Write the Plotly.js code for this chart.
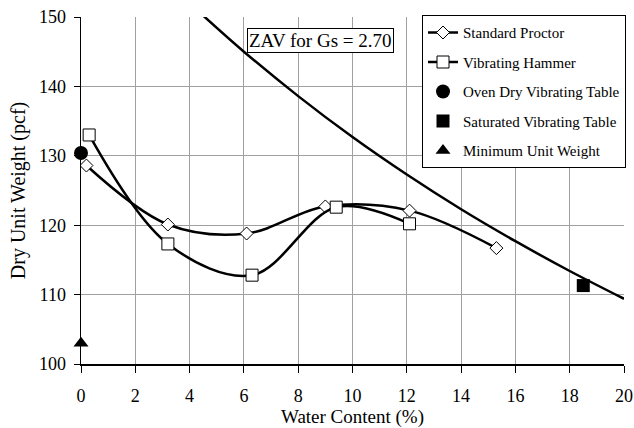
<!DOCTYPE html>
<html><head><meta charset="utf-8">
<script src="https://cdn.plot.ly/plotly-3.0.1.min.js"></script>
<style>body{margin:0;background:#fff}#c{width:634px;height:428px}</style>
</head><body><div id="c"></div>
<script>
const spW = [0.2, 3.2, 6.1, 9.0, 12.1, 15.3];
const spG = [128.6, 120.1, 118.8, 122.7, 122.1, 116.7];
const vhW = [0.3, 3.2, 6.3, 9.4, 12.1];
const vhG = [133.0, 117.3, 112.8, 122.6, 120.2];
const odW = [0];
const odG = [130.4];
const satW = [18.5];
const satG = [111.3];
const minW = [0];
const minG = [103.0];
const zavW = [4.5, 6, 8, 10, 12, 14, 16, 18, 20];
const zavG = [150.2, 145.0, 138.6, 132.7, 127.3, 122.3, 117.7, 113.4, 109.4];
const xTicks = [0, 2, 4, 6, 8, 10, 12, 14, 16, 18, 20];
const yTicks = [100, 110, 120, 130, 140, 150];

const F = "Liberation Serif";
const traces = [
  {x: zavW, y: zavG, mode: 'lines', line: {color: '#000', width: 2.5, shape: 'spline'}, showlegend: false, hoverinfo: 'skip'},
  {x: spW, y: spG, name: 'Standard Proctor', legendgroup: 'a', mode: 'lines+markers',
   line: {color: '#000', width: 2.5, shape: 'spline', smoothing: 1},
   marker: {symbol: 'diamond', size: 10, color: '#fff', line: {color: '#000', width: 1}}},
  {x: vhW, y: vhG, name: 'Vibrating Hammer', legendgroup: 'b', mode: 'lines+markers',
   line: {color: '#000', width: 2.5, shape: 'spline', smoothing: 1},
   marker: {symbol: 'square', size: 12, color: '#fff', line: {color: '#000', width: 1}}},
  {x: odW, y: odG, name: 'Oven Dry Vibrating Table', legendgroup: 'c', mode: 'markers', cliponaxis: false,
   marker: {symbol: 'circle', size: 14, color: '#000'}},
  {x: satW, y: satG, name: 'Saturated Vibrating Table', legendgroup: 'd', mode: 'markers',
   marker: {symbol: 'square', size: 13, color: '#000'}},
  {x: minW, y: minG, name: 'Minimum Unit Weight', legendgroup: 'e', mode: 'markers', cliponaxis: false,
   marker: {symbol: 'triangle-up', size: 13, color: '#000'}}
];
const layout = {
  width: 634, height: 428,
  margin: {l: 81, r: 8, t: 17, b: 64},
  paper_bgcolor: '#fff', plot_bgcolor: '#fff',
  font: {family: F, color: '#000', size: 18},
  showlegend: true,
  legend: {x: 0.628, y: 1.005, xanchor: 'left', yanchor: 'top', bgcolor: '#fff',
    bordercolor: '#000', borderwidth: 1, font: {family: F, size: 15, color: '#000'},
    tracegroupgap: 7, traceorder: 'grouped', itemwidth: 30},
  xaxis: {range: [0, 20], tickvals: xTicks, ticks: 'outside', ticklen: 7, tickcolor: '#000',
    ticklabeloverflow: 'allow', ticklabelstandoff: 8,
    showgrid: true, gridcolor: '#a0a0a0', gridwidth: 1, zeroline: false,
    showline: true, linecolor: '#000', linewidth: 1.5,
    tickfont: {family: F, size: 18}, title: {text: 'Water Content (%)', font: {family: F, size: 19}, standoff: 12}},
  yaxis: {range: [100, 150], tickvals: yTicks, ticks: 'outside', ticklen: 6, tickcolor: '#000',
    ticklabelstandoff: 4,
    showgrid: true, gridcolor: '#a0a0a0', gridwidth: 1, zeroline: false,
    showline: true, linecolor: '#000', linewidth: 1.5,
    tickfont: {family: F, size: 18}, title: {text: 'Dry Unit Weight (pcf)', font: {family: F, size: 20}, standoff: 8}},
  annotations: [{x: 8.81, y: 146.66, xref: 'x', yref: 'y', text: 'ZAV for Gs = 2.70', showarrow: false,
    font: {family: F, size: 19, color: '#000'}, bgcolor: '#fff', bordercolor: '#000', borderwidth: 1, borderpad: 1}]
};
Plotly.newPlot('c', traces, layout, {displayModeBar: false, staticPlot: true});
</script></body></html>
